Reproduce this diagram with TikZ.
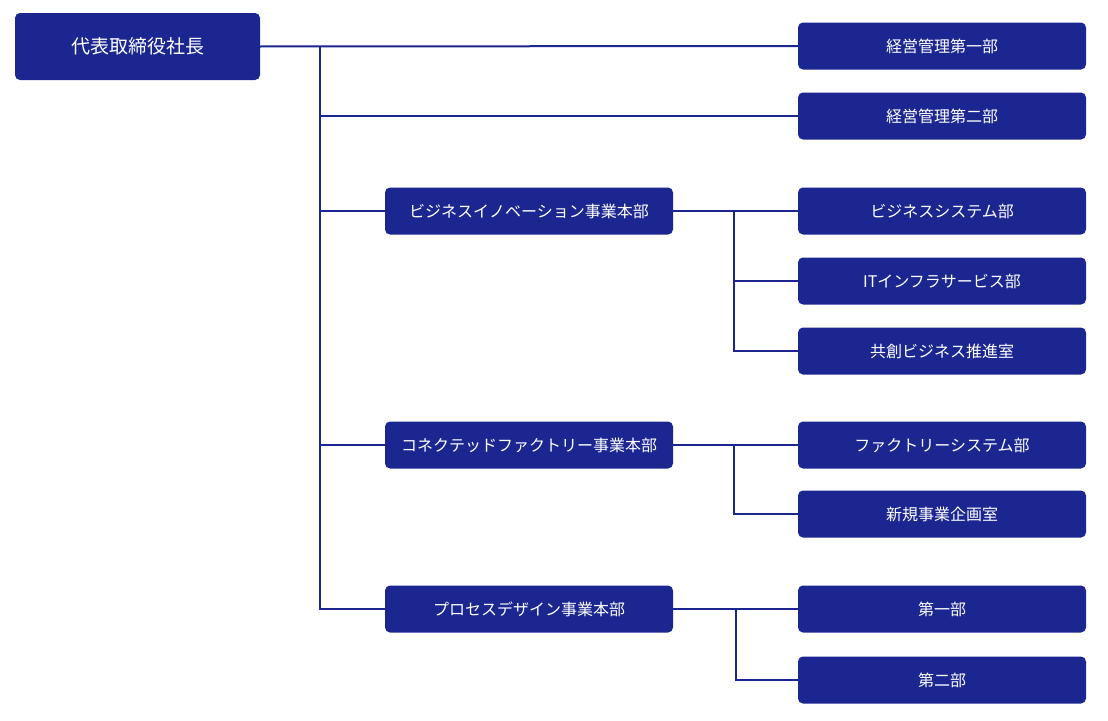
\documentclass[tikz,border=0pt]{standalone}
\usepackage{fontspec}
\newfontfamily\cjk{Noto Sans CJK JP}
\definecolor{navy}{HTML}{1B2690}
\begin{document}
\begin{tikzpicture}[x=1pt,y=-1pt,
    box/.style={rectangle, rounded corners=5pt, fill=navy, text=white,
        font=\cjk\fontsize{16}{18}\selectfont, inner sep=0pt},
    unit/.style={box, minimum width=288pt, minimum height=47pt},
    top/.style={box, minimum width=245pt, minimum height=67pt,
        font=\cjk\fontsize{19}{22}\selectfont},
    link/.style={draw=navy, line width=2pt},
]
    \useasboundingbox (0,0) rectangle (1108,720);
    \node [top] (ceo) at (137.5,46.5) {代表取締役社長};
    % right column
    \node [unit] (d1) at (942,46) {経営管理第一部};
    \node [unit] (d2) at (942,116) {経営管理第二部};
    \node [unit] (b1) at (942,211) {ビジネスシステム部};
    \node [unit] (b2) at (942,281) {ITインフラサービス部};
    \node [unit] (b3) at (942,351) {共創ビジネス推進室};
    \node [unit] (c1) at (942,445) {ファクトリーシステム部};
    \node [unit] (c2) at (942,514) {新規事業企画室};
    \node [unit] (p1) at (942,609) {第一部};
    \node [unit] (p2) at (942,680) {第二部};
    % middle column
    \node [unit] (biz) at (529,211) {ビジネスイノベーション事業本部};
    \node [unit] (con) at (529,445) {コネクテッドファクトリー事業本部};
    \node [unit] (pro) at (529,609) {プロセスデザイン事業本部};
    % connectors
    \coordinate (tr) at (320,0);
    \coordinate (bx) at (734,0);
    \coordinate (px) at (736,0);
    \draw [link] (ceo.east) -- (d1.west);
    \draw [link] (tr |- ceo.east) -- (tr |- pro.west) -- (pro.west);
    \draw [link] (tr |- d2.west) -- (d2.west);
    \draw [link] (tr |- biz.west) -- (biz.west);
    \draw [link] (tr |- con.west) -- (con.west);
    \draw [link] (biz.east) -- (b1.west);
    \draw [link] (bx |- biz.east) |- (b3.west);
    \draw [link] (bx |- b2.west) -- (b2.west);
    \draw [link] (con.east) -- (c1.west);
    \draw [link] (bx |- con.east) |- (c2.west);
    \draw [link] (pro.east) -- (p1.west);
    \draw [link] (px |- pro.east) |- (p2.west);
\end{tikzpicture}
\end{document}
